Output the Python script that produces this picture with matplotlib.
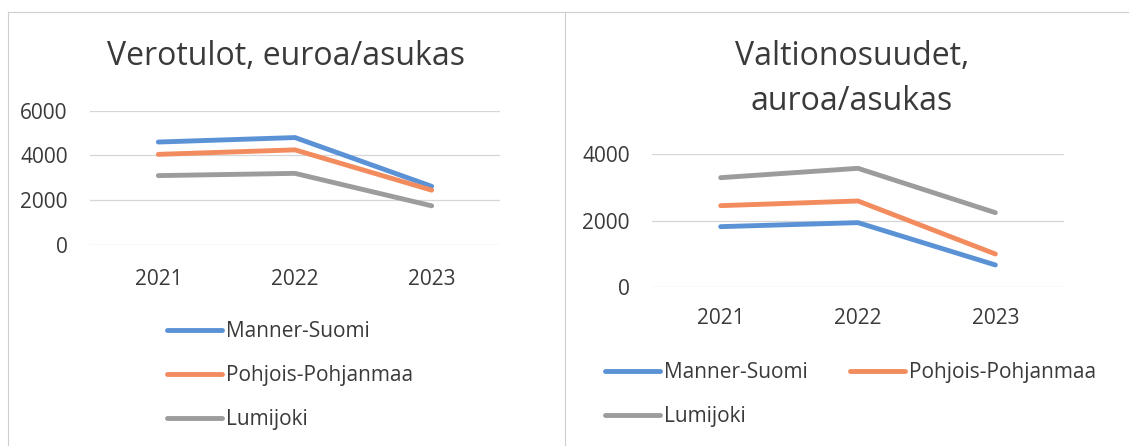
import matplotlib
matplotlib.use("Agg")
import matplotlib.pyplot as plt
from matplotlib.lines import Line2D

plt.rcParams["font.family"] = ["Open Sans", "DejaVu Sans"]

years = ["2021", "2022", "2023"]
series_names = ["Manner-Suomi", "Pohjois-Pohjanmaa", "Lumijoki"]

# Verotulot, euroa/asukas
tax_manner = [4600, 4800, 2620]
tax_pohjois = [4050, 4250, 2450]
tax_lumijoki = [3100, 3200, 1750]

# Valtionosuudet, euroa/asukas
state_manner = [1820, 1940, 670]
state_pohjois = [2450, 2590, 1000]
state_lumijoki = [3290, 3570, 2240]

colors = ["#5b92d6", "#f28c5e", "#9c9c9c"]
TEXT = "#3a3a3a"
W, H = 1129, 446


def style_axes(ax, ymax, step, xpad):
    for s in ax.spines.values():
        s.set_visible(False)
    ax.set_xlim(-0.5, len(years) - 0.5)
    ax.set_ylim(0, ymax)
    ax.set_yticks(range(0, ymax + 1, step))
    ax.set_xticks(range(len(years)))
    ax.set_xticklabels(years)
    ax.tick_params(length=0, labelsize=15, colors=TEXT)
    ax.tick_params(axis="y", pad=16)
    ax.tick_params(axis="x", pad=xpad)
    ax.grid(axis="y", color="#d6d6d6", linewidth=0.9)
    ax.set_axisbelow(True)


fig = plt.figure(figsize=(W / 100, H / 100), dpi=100)

ax1 = fig.add_axes([90 / W, 1 - 245 / H, 410 / W, 134.3 / H])
ax2 = fig.add_axes([652 / W, 1 - 287.3 / H, 412 / W, 133.3 / H])

x = range(len(years))
lines1 = []
for vals, c, name in zip([tax_manner, tax_pohjois, tax_lumijoki], colors, series_names):
    ln, = ax1.plot(x, vals, color=c, linewidth=3.5, solid_capstyle="round", label=name)
    lines1.append(ln)
style_axes(ax1, 6000, 2000, 17)

lines2 = []
for vals, c, name in zip([state_manner, state_pohjois, state_lumijoki], colors, series_names):
    ln, = ax2.plot(x, vals, color=c, linewidth=3.5, solid_capstyle="round", label=name)
    lines2.append(ln)
style_axes(ax2, 4000, 2000, 15)

# titles
fig.text(286 / W, 1 - 65 / H, "Verotulot, euroa/asukas", ha="center", va="baseline",
         fontsize=23, color=TEXT)
fig.text(852 / W, 1 - 65 / H, "Valtionosuudet,", ha="center", va="baseline",
         fontsize=23, color=TEXT)
fig.text(852 / W, 1 - 110 / H, "auroa/asukas", ha="center", va="baseline",
         fontsize=23, color=TEXT)

# legends
leg_kw = dict(frameon=False, fontsize=15, handlelength=2.65, handletextpad=0.2,
              labelspacing=1.1, borderpad=0, borderaxespad=0, labelcolor=TEXT)
fig.legend(handles=lines1, loc="upper left", bbox_to_anchor=(167 / W, 1 - 321 / H), **leg_kw)
fig.legend(handles=[lines2[0], lines2[2], lines2[1]], loc="upper left", ncol=2,
           bbox_to_anchor=(605 / W, 1 - 362 / H), columnspacing=2.0, **leg_kw)

# frame lines of the two chart boxes
frame = "#cfcfcf"
fig.add_artist(Line2D([8 / W, 1], [1 - 12 / H, 1 - 12 / H], color=frame, linewidth=0.8))
fig.add_artist(Line2D([8 / W, 8 / W], [0, 1 - 12 / H], color=frame, linewidth=0.8))
fig.add_artist(Line2D([565 / W, 565 / W], [0, 1 - 12 / H], color=frame, linewidth=0.8))

fig.savefig("out.png", dpi=100)
